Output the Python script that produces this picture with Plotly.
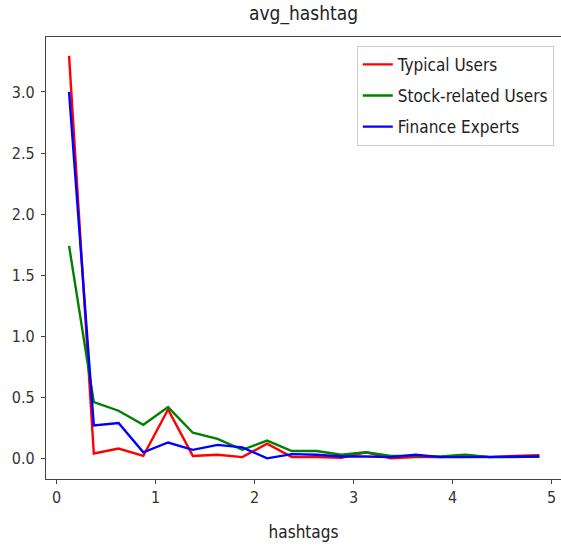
import plotly.graph_objects as go

# bin centres for the hashtag count histogram
hashtags = [0.125, 0.375, 0.625, 0.875, 1.125, 1.375, 1.625, 1.875, 2.125, 2.375,
            2.625, 2.875, 3.125, 3.375, 3.625, 3.875, 4.125, 4.375, 4.625, 4.875]

typical_users = [3.295, 0.04, 0.08, 0.02, 0.40, 0.02, 0.03, 0.01, 0.12, 0.01,
                 0.01, 0.005, 0.05, 0.0, 0.01, 0.01, 0.025, 0.01, 0.02, 0.025]
stock_users = [1.74, 0.46, 0.39, 0.275, 0.42, 0.21, 0.16, 0.07, 0.145, 0.06,
               0.06, 0.03, 0.05, 0.02, 0.02, 0.015, 0.03, 0.01, 0.01, 0.015]
finance_experts = [3.0, 0.27, 0.29, 0.05, 0.13, 0.07, 0.11, 0.09, 0.0, 0.035,
                   0.03, 0.015, 0.015, 0.01, 0.03, 0.01, 0.01, 0.01, 0.01, 0.015]

series = [
    ("Typical Users", typical_users, "#ff0000"),
    ("Stock-related Users", stock_users, "#008000"),
    ("Finance Experts", finance_experts, "#0000ff"),
]

FONT = "DejaVu Sans Condensed, DejaVu Sans, sans-serif"

fig = go.Figure()
for name, vals, color in series:
    fig.add_trace(go.Scatter(
        x=hashtags, y=vals, mode="lines", name=name, legendgroup=name,
        line=dict(color=color, width=2.4),
    ))

axis_common = dict(
    showline=True, linecolor="#444", linewidth=1.3,
    ticks="outside", ticklen=4, tickwidth=1.2, tickcolor="#444",
    showgrid=False, zeroline=False,
    tickfont=dict(family=FONT, size=16, color="#333"),
)

fig.update_layout(
    width=561, height=546,
    margin=dict(l=46, r=0, t=37, b=67),
    paper_bgcolor="white", plot_bgcolor="white",
    title=dict(text="avg_hashtag", x=0.5, xref="paper", xanchor="center",
               y=0.975, yanchor="middle",
               font=dict(family=FONT, size=19, color="#222")),
    xaxis=dict(range=[-0.108, 5.094], tickvals=[0, 1, 2, 3, 4, 5],
               mirror=True,
               title=dict(text="hashtags", standoff=19,
                          font=dict(family=FONT, size=17, color="#222")),
               **axis_common),
    yaxis=dict(range=[-0.169, 3.45], tickvals=[0, 0.5, 1, 1.5, 2, 2.5, 3],
               ticktext=["0.0", "0.5", "1.0", "1.5", "2.0", "2.5", "3.0"],
               mirror=False, ticklabelstandoff=3,
               **axis_common),
    legend=dict(x=0.986, y=0.98, xanchor="right", yanchor="top",
                bordercolor="#ccc", borderwidth=1, bgcolor="white",
                font=dict(family=FONT, size=17, color="#222"),
                tracegroupgap=6, itemwidth=30),
    showlegend=True,
)

fig.write_html("out.html")
